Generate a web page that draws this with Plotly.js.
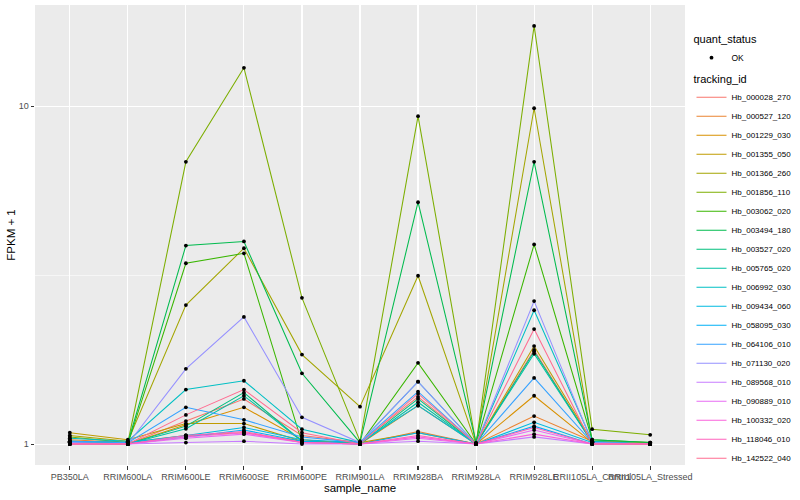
<!DOCTYPE html>
<html><head><meta charset="utf-8">
<script src="https://cdn.plot.ly/plotly-3.0.1.min.js"></script>
<style>html,body{margin:0;padding:0;background:#fff}#chart{width:800px;height:500px}</style>
</head><body><div id="chart"></div>
<script>
const samples = ["PB350LA","RRIM600LA","RRIM600LE","RRIM600SE","RRIM600PE","RRIM901LA","RRIM928BA","RRIM928LA","RRIM928LE","RRII105LA_Control","RRII105LA_Stressed"];
const trackingIds = ["Hb_000028_270","Hb_000527_120","Hb_001229_030","Hb_001355_050","Hb_001366_260","Hb_001856_110","Hb_003062_020","Hb_003494_180","Hb_003527_020","Hb_005765_020","Hb_006992_030","Hb_009434_060","Hb_058095_030","Hb_064106_010","Hb_071130_020","Hb_089568_010","Hb_090889_010","Hb_100332_020","Hb_118046_010","Hb_142522_040"];
const colors = ["#F8766D","#EA8331","#D89000","#C09B00","#A3A500","#7CAE00","#39B600","#00BB4E","#00BF7D","#00C1A3","#00BFC4","#00BAE0","#00B0F6","#35A2FF","#9590FF","#C77CFF","#E76BF3","#FA62DB","#FF62BC","#FF6C91"];

// FPKM + 1 per sample, one array per tracking_id
const hb_000028_270 = [1.01, 1.00, 1.17, 1.36, 1.06, 1.01, 1.38, 1.00, 1.90, 1.01, 1.00];
const hb_000527_120 = [1.03, 1.01, 1.06, 1.08, 1.02, 1.00, 1.09, 1.00, 1.21, 1.02, 1.01];
const hb_001229_030 = [1.02, 1.00, 1.14, 1.285, 1.03, 1.00, 1.30, 1.00, 1.39, 1.01, 1.00];
const hb_001355_050 = [1.08, 1.03, 1.15, 1.15, 1.02, 1.01, 1.08, 1.00, 1.95, 1.02, 1.00];
const hb_001366_260 = [1.06, 1.02, 2.58, 3.80, 1.84, 1.29, 3.15, 1.00, 9.87, 1.02, 1.00];
const hb_001856_110 = [1.05, 1.01, 6.85, 13.0, 2.71, 1.02, 9.35, 1.00, 17.3, 1.107, 1.065];
const hb_003062_020 = [1.00, 1.00, 3.43, 3.67, 1.01, 1.00, 1.74, 1.00, 3.90, 1.03, 1.01];
const hb_003494_180 = [1.02, 1.01, 3.87, 3.98, 1.62, 1.01, 5.20, 1.01, 6.85, 1.03, 1.01];
const hb_003527_020 = [1.01, 1.00, 1.13, 1.42, 1.02, 1.00, 1.36, 1.00, 1.88, 1.01, 1.00];
const hb_005765_020 = [1.01, 1.00, 1.11, 1.39, 1.02, 1.00, 1.33, 1.00, 1.85, 1.01, 1.00];
const hb_006992_030 = [1.04, 1.02, 1.45, 1.54, 1.107, 1.01, 1.53, 1.00, 2.49, 1.02, 1.00];
const hb_009434_060 = [1.02, 1.01, 1.06, 1.12, 1.03, 1.01, 1.30, 1.00, 1.16, 1.01, 1.00];
const hb_058095_030 = [1.01, 1.00, 1.05, 1.10, 1.02, 1.00, 1.08, 1.00, 1.13, 1.00, 1.00];
const hb_064106_010 = [1.02, 1.01, 1.285, 1.18, 1.05, 1.01, 1.43, 1.00, 1.57, 1.01, 1.00];
const hb_071130_020 = [1.01, 1.00, 1.67, 2.38, 1.20, 1.01, 1.53, 1.00, 2.65, 1.01, 1.00];
const hb_089568_010 = [1.00, 1.00, 1.01, 1.02, 1.00, 1.00, 1.02, 1.00, 1.05, 1.00, 1.00];
const hb_090889_010 = [1.00, 1.00, 1.04, 1.07, 1.01, 1.00, 1.04, 1.00, 1.10, 1.00, 1.00];
const hb_100332_020 = [1.00, 1.00, 1.05, 1.08, 1.01, 1.00, 1.05, 1.00, 1.07, 1.00, 1.00];
const hb_118046_010 = [1.00, 1.00, 1.06, 1.09, 1.01, 1.00, 1.06, 1.00, 1.12, 1.00, 1.00];
const hb_142522_040 = [1.00, 1.00, 1.22, 1.45, 1.08, 1.00, 1.41, 1.00, 2.19, 1.00, 1.00];

const seriesValues = [hb_000028_270, hb_000527_120, hb_001229_030, hb_001355_050, hb_001366_260,
  hb_001856_110, hb_003062_020, hb_003494_180, hb_003527_020, hb_005765_020, hb_006992_030,
  hb_009434_060, hb_058095_030, hb_064106_010, hb_071130_020, hb_089568_010, hb_090889_010,
  hb_100332_020, hb_118046_010, hb_142522_040];
const quantStatus = "OK";

const FONT = "Liberation Sans, Arial, Helvetica, sans-serif";
const traces = trackingIds.map((id, i) => ({
  type: "scatter", mode: "lines", name: id, x: samples, y: seriesValues[i],
  line: {color: colors[i], width: 1.05}, legend: "legend2", hoverinfo: "x+y+name"
}));
const px = [], py = [];
seriesValues.forEach(v => v.forEach((val, j) => { px.push(samples[j]); py.push(val); }));
traces.push({
  type: "scatter", mode: "markers", name: quantStatus, x: px, y: py,
  marker: {color: "#000", size: 3.8}, legend: "legend"
});

const layout = {
  width: 800, height: 500,
  margin: {l: 35, r: 115, t: 5, b: 35, autoexpand: false},
  paper_bgcolor: "#fff", plot_bgcolor: "#EBEBEB",
  font: {family: FONT, color: "#000"},
  showlegend: true,
  xaxis: {
    type: "category", categoryorder: "array", categoryarray: samples,
    range: [-0.6, samples.length - 0.4],
    showgrid: true, gridcolor: "#fff", gridwidth: 1.1, zeroline: false, showline: false,
    ticks: "outside", ticklen: 3.5, tickcolor: "#333", tickwidth: 1.1, tickangle: 0,
    tickfont: {family: FONT, size: 9, color: "#4D4D4D"},
    title: {text: "sample_name", font: {family: FONT, size: 11.5, color: "#000"}, standoff: 2},
    fixedrange: true
  },
  yaxis: {
    type: "log", range: [-0.062, 1.30],
    tickmode: "array", tickvals: [1, 10], ticktext: ["1", "10"],
    showgrid: true, gridcolor: "#fff", gridwidth: 1.1, zeroline: false, showline: false,
    ticks: "outside", ticklen: 3.5, tickcolor: "#333", tickwidth: 1.1,
    tickfont: {family: FONT, size: 9, color: "#4D4D4D"},
    minor: {tickmode: "array", tickvals: [Math.sqrt(10)], showgrid: true, gridcolor: "#fff", gridwidth: 0.55, ticks: ""},
    title: {text: "FPKM + 1", font: {family: FONT, size: 11.5, color: "#000"}, standoff: 0},
    fixedrange: true
  },
  legend: {
    x: 1.01, xanchor: "left", y: 0.948, yanchor: "top",
    bgcolor: "rgba(0,0,0,0)", itemwidth: 30,
    title: {text: "quant_status", font: {family: FONT, size: 11, color: "#000"}},
    font: {family: FONT, size: 8.5, color: "#000"}
  },
  legend2: {
    x: 1.01, xanchor: "left", y: 0.862, yanchor: "top",
    bgcolor: "rgba(0,0,0,0)", itemwidth: 30, traceorder: "normal",
    title: {text: "tracking_id", font: {family: FONT, size: 11, color: "#000"}},
    font: {family: FONT, size: 8, color: "#000"}
  }
};
Plotly.newPlot("chart", traces, layout, {displayModeBar: false, staticPlot: true});
</script></body></html>
